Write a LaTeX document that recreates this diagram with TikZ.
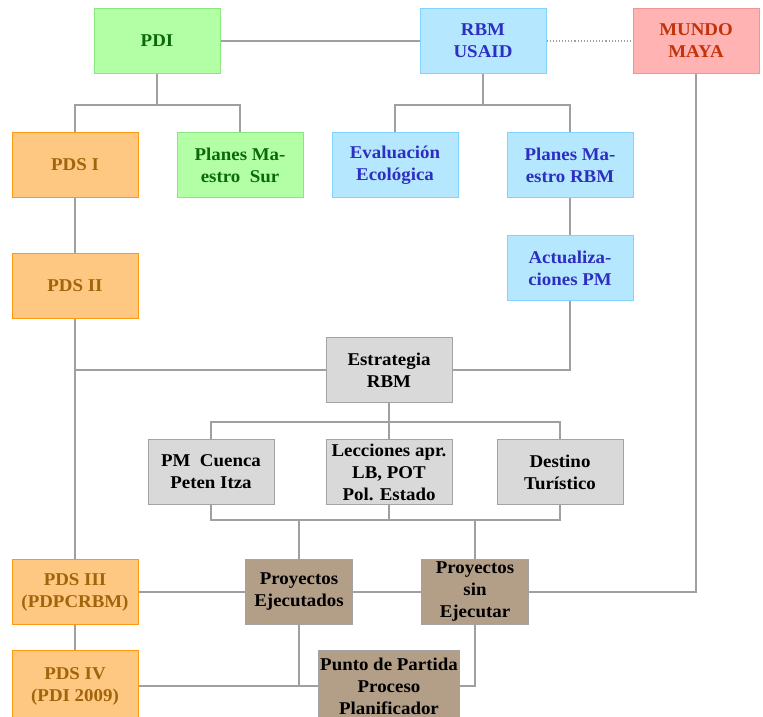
\documentclass[tikz,border=0pt]{standalone}
\usepackage{fontspec}
\setmainfont{Liberation Serif}[FakeStretch=1.05]
\usepackage{tikz}
\usetikzlibrary{arrows,%
                shapes,positioning}

\definecolor{grnfill}{HTML}{B2FFA6}
\definecolor{grnline}{HTML}{8CE67F}
\definecolor{grntext}{HTML}{0A6A0A}
\definecolor{bluefill}{HTML}{B5E8FF}
\definecolor{blueline}{HTML}{80D2FF}
\definecolor{bluetext}{HTML}{2E2EC0}
\definecolor{redfill}{HTML}{FFB3B3}
\definecolor{redline}{HTML}{F29494}
\definecolor{redtext}{HTML}{C2330A}
\definecolor{orgfill}{HTML}{FFC882}
\definecolor{orgline}{HTML}{FF9A10}
\definecolor{orgtext}{HTML}{A0640A}
\definecolor{grayfill}{HTML}{D9D9D9}
\definecolor{grayline}{HTML}{A3A3A3}
\definecolor{brnfill}{HTML}{B39E87}
\definecolor{linkgray}{HTML}{A0A0A0}

\begin{document}
\begin{tikzpicture}[x=1pt, y=-1pt,
  box/.style={draw, line width=1pt, inner sep=0pt, align=center,
    minimum width=126pt, minimum height=65pt,
    font=\fontsize{18}{22}\selectfont\bfseries},
  pdibox/.style={box, fill=grnfill, draw=grnline, text=grntext},
  rbmbox/.style={box, fill=bluefill, draw=blueline, text=bluetext},
  mayabox/.style={box, fill=redfill, draw=redline, text=redtext},
  pdsbox/.style={box, fill=orgfill, draw=orgline, text=orgtext},
  estbox/.style={box, fill=grayfill, draw=grayline, text=black},
  proybox/.style={box, fill=brnfill, draw=grayline, text=black, minimum width=107pt},
  conn/.style={draw=linkgray, line width=1.1pt}]
\useasboundingbox (0,0) rectangle (763,717);
% top row
\node[pdibox] (pdi) at (157,41) {PDI};
\node[rbmbox] (rbm) at (483,41) {RBM\\USAID};
\node[mayabox] (maya) at (696,41) {MUNDO\\MAYA};
% second row
\node[pdsbox] (pds1) at (75,165) {PDS I};
\node[pdibox] (sur) at (240,165) {Planes Ma-\\estro~~Sur};
\node[rbmbox] (eval) at (395,165) {Evaluación\\Ecológica};
\node[rbmbox] (pmrbm) at (570,165) {Planes Ma-\\estro RBM};
\node[pdsbox] (pds2) at (75,286) {PDS II};
\node[rbmbox] (act) at (570,268) {Actualiza-\\ciones PM};
% estrategia
\node[estbox] (estr) at (389,370) {Estrategia\\RBM};
\node[estbox] (cuenca) at (211,472) {PM~~Cuenca\\Peten Itza};
\node[estbox] (lec) at (389,472) {Lecciones apr.\\LB, POT\\Pol. Estado};
\node[estbox] (destino) at (560,472) {Destino\\Turístico};
% proyectos
\node[pdsbox] (pds3) at (75,592) {PDS III\\(PDPCRBM)};
\node[proybox] (ejec) at (299,592) {Proyectos\\Ejecutados};
\node[proybox] (sin) at (475,592) {Proyectos\\sin\\Ejecutar};
\node[pdsbox, minimum height=72pt] (pds4) at (75,686) {PDS IV\\(PDI 2009)};
\node[proybox, minimum width=141pt, minimum height=72pt] (punto) at (389,686) {Punto de Partida\\Proceso\\Planificador};

\coordinate (j1) at (157,105);
\coordinate (j2) at (483,105);
\coordinate (j3) at (389,422);
\coordinate (j4) at (389,520);

\draw[conn] (pdi) -- (rbm);
\draw[conn, dotted] (rbm) -- (maya);
\draw[conn] (pdi) -- (j1);
\draw[conn] (pds1.north) |- (j1) -| (sur.north);
\draw[conn] (rbm) -- (j2);
\draw[conn] (eval.north) |- (j2) -| (pmrbm.north);
\draw[conn] (pmrbm) -- (act);
\draw[conn] (act.south) |- (estr.east);
\draw[conn] (pds1) -- (pds2);
\draw[conn] (pds2) -- (pds3);
\draw[conn] (estr.west) -- (estr.west -| pds2.south);
\draw[conn] (estr) -- (lec);
\draw[conn] (cuenca.north) |- (j3) -| (destino.north);
\draw[conn] (cuenca.south) |- (j4) -| (destino.south);
\draw[conn] (lec) -- (j4);
\draw[conn] (ejec.north) -- (ejec.north |- j4);
\draw[conn] (sin.north) -- (sin.north |- j4);
\draw[conn] (pds3) -- (ejec);
\draw[conn] (ejec) -- (sin);
\draw[conn] (sin.east) -| (maya.south);
\draw[conn] (pds3) -- (pds4);
\draw[conn] (pds4) -- (punto);
\draw[conn] (ejec.south) -- (ejec.south |- punto.west);
\draw[conn] (sin.south) |- (punto.east);
\end{tikzpicture}
\end{document}
